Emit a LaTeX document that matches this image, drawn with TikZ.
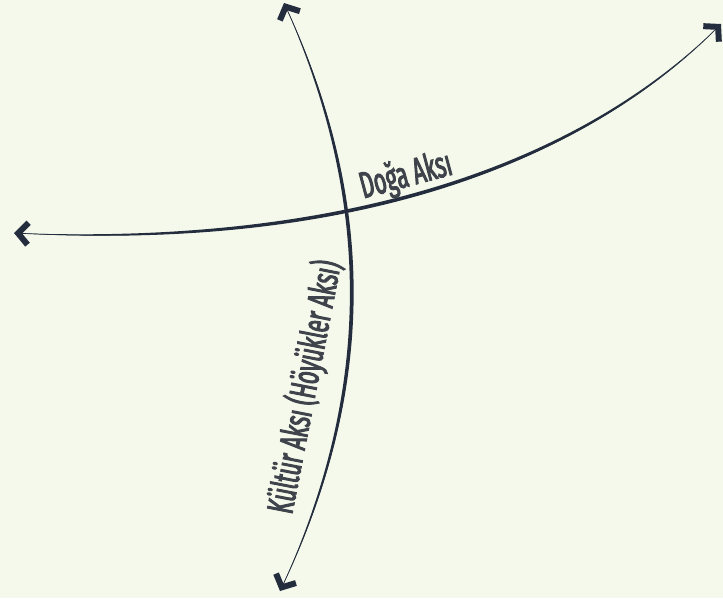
\documentclass[tikz,border=0pt]{standalone}
\usepackage{fontspec}
\usepackage{tikz}
\usetikzlibrary{arrows.meta}
\newfontfamily\axisfont{Fira Sans}[FakeStretch=0.58,FakeBold=2.5]
\definecolor{paper}{HTML}{F5F9EC}
\definecolor{axisline}{HTML}{232D3D}
\definecolor{axistext}{HTML}{3F434B}

\begin{document}
\begin{tikzpicture}[x=1pt,y=-1pt,
    route/.style={draw=axisline,line width=0.7pt,
      {Straight Barb[length=10pt,width=22pt,line width=6pt,sharp]}-{Straight Barb[length=10pt,width=22pt,line width=6pt,sharp]}},
    brush/.style={fill=axisline},
    lbl/.style={text=axistext,font=\axisfont\fontsize{37}{40}\selectfont,inner sep=0pt}
  ]
  \fill[paper] (0,0) rectangle (723,598);
  \useasboundingbox (0,0) rectangle (723,598);
  \coordinate (dogaW) at (14,233);
  \coordinate (dogaE) at (721,24);
  \coordinate (kulturN) at (284,3);
  \coordinate (kulturS) at (280,591);
  \draw[route] (dogaW) .. controls (260,245) and (540,205) .. (dogaE);
  \fill[brush] (dogaW) .. controls (260,242.5) and (540,202.5) .. (dogaE)
    .. controls (540,207.5) and (260,247.5) .. (dogaW);
  \draw[route] (kulturN) .. controls (370,190) and (380,380) .. (kulturS);
  \fill[brush] (kulturN) .. controls (372.5,190) and (382.5,380) .. (kulturS)
    .. controls (377.5,380) and (367.5,190) .. (kulturN);
  \node[lbl,rotate=15] (doga) at (406,176) {Doğa Aksı};
  \node[lbl,rotate=79] (kultur) at (305,387) {Kültür Aksı (Höyükler Aksı)};
\end{tikzpicture}
\end{document}
